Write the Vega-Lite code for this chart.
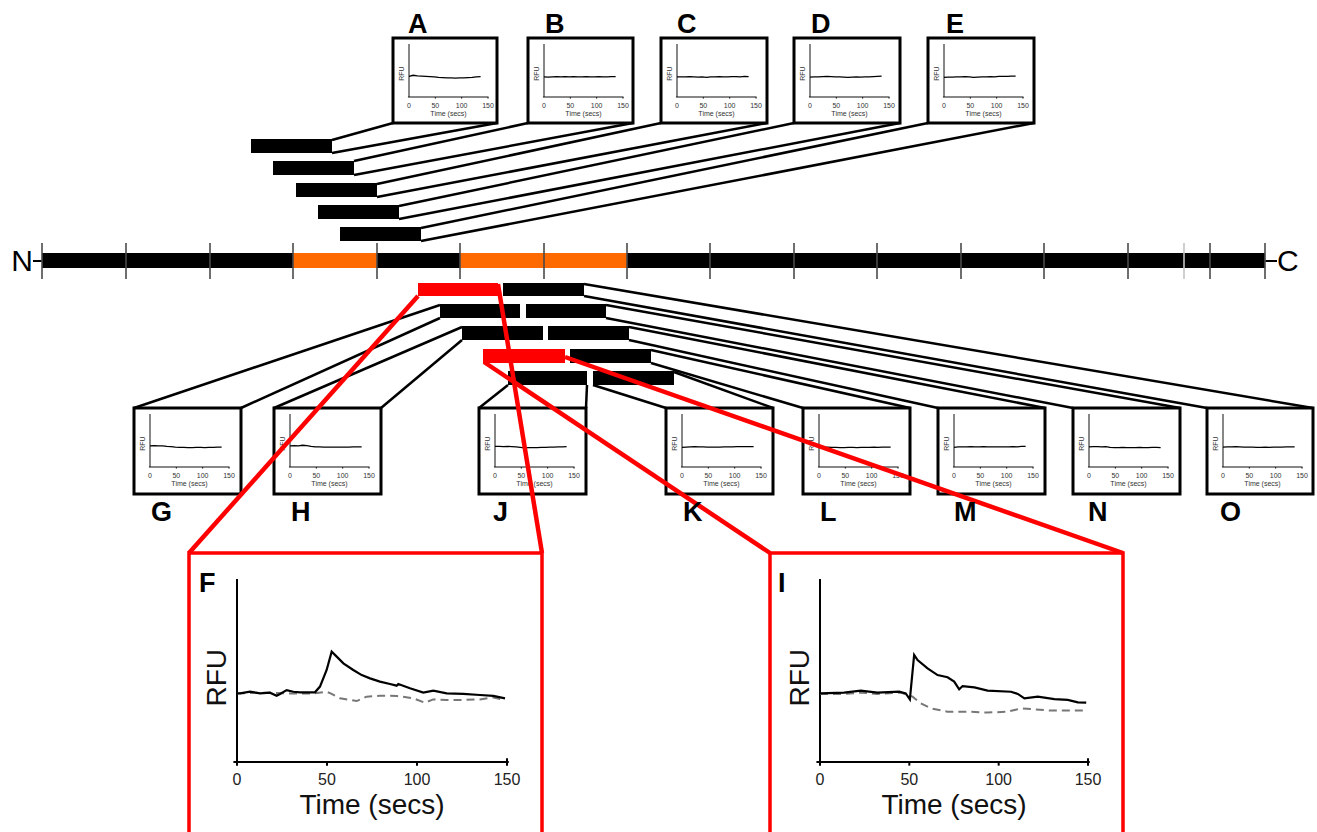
{
"$schema":"https://vega.github.io/schema/vega-lite/v6.json",
"width":1317,"height":832,"autosize":{"type":"none"},"padding":0,"background":"white",
"config":{"view":{"stroke":null},"font":"Liberation Sans"},
"datasets":{
"links":[
{"kind":"black","x":332,"y":140,"x2":393,"y2":123},{"kind":"black","x":332,"y":153,"x2":497,"y2":123},
{"kind":"black","x":354,"y":161,"x2":528,"y2":123},{"kind":"black","x":354,"y":175,"x2":633,"y2":123},
{"kind":"black","x":377,"y":184,"x2":661,"y2":123},{"kind":"black","x":377,"y":197,"x2":767,"y2":123},
{"kind":"black","x":399,"y":206,"x2":794,"y2":123},{"kind":"black","x":399,"y":219,"x2":900,"y2":123},
{"kind":"black","x":421,"y":228,"x2":928,"y2":123},{"kind":"black","x":421,"y":241,"x2":1034,"y2":123},
{"kind":"black","x":440,"y":305,"x2":134,"y2":408},{"kind":"black","x":440,"y":318,"x2":241,"y2":408},
{"kind":"black","x":462,"y":327,"x2":274,"y2":408},{"kind":"black","x":462,"y":340,"x2":381,"y2":408},
{"kind":"black","x":508,"y":385,"x2":479,"y2":408},{"kind":"black","x":587,"y":385,"x2":586,"y2":408},
{"kind":"black","x":593,"y":385,"x2":666,"y2":408},{"kind":"black","x":674,"y":372,"x2":773,"y2":408},
{"kind":"black","x":651,"y":350,"x2":910,"y2":408},{"kind":"black","x":651,"y":363,"x2":803,"y2":408},
{"kind":"black","x":629,"y":327,"x2":1045,"y2":408},{"kind":"black","x":629,"y":340,"x2":938,"y2":408},
{"kind":"black","x":606,"y":305,"x2":1180,"y2":408},{"kind":"black","x":606,"y":318,"x2":1073,"y2":408},
{"kind":"black","x":584,"y":284,"x2":1313,"y2":408},{"kind":"black","x":584,"y":296,"x2":1207,"y2":408},
{"kind":"thin","x":33,"y":261,"x2":42,"y2":261},{"kind":"thin","x":1265,"y":261,"x2":1277,"y2":261},
{"kind":"red","x":418,"y":296,"x2":189,"y2":553},{"kind":"red","x":498,"y":284,"x2":542,"y2":553},
{"kind":"red","x":484,"y":362,"x2":770,"y2":553},{"kind":"red","x":565,"y":357,"x2":1123,"y2":553}
],
"bars":[
{"kind":"black","x":42,"x2":1265,"y":253,"y2":268},
{"kind":"orange","x":293,"x2":377,"y":253,"y2":268},{"kind":"orange","x":460,"x2":627,"y":253,"y2":268},
{"kind":"black","x":251,"x2":332,"y":139,"y2":153},{"kind":"black","x":273,"x2":354,"y":161,"y2":175},
{"kind":"black","x":296,"x2":377,"y":183,"y2":197},{"kind":"black","x":318,"x2":399,"y":205,"y2":219},
{"kind":"black","x":340,"x2":421,"y":227,"y2":241},
{"kind":"black","x":503,"x2":584,"y":283,"y2":296},{"kind":"black","x":440,"x2":520,"y":304,"y2":318},
{"kind":"black","x":526,"x2":606,"y":304,"y2":318},{"kind":"black","x":462,"x2":543,"y":326,"y2":340},
{"kind":"black","x":548,"x2":629,"y":326,"y2":340},{"kind":"black","x":570,"x2":651,"y":349,"y2":363},
{"kind":"black","x":508,"x2":587,"y":371,"y2":385},{"kind":"black","x":593,"x2":674,"y":371,"y2":385},
{"kind":"red","x":418,"x2":498,"y":283,"y2":296},{"kind":"red","x":483,"x2":565,"y":349,"y2":363}
],
"ticks":[
{"kind":"dark","x":42,"y":243,"y2":279},{"kind":"dark","x":126,"y":243,"y2":279},{"kind":"dark","x":210,"y":243,"y2":279},
{"kind":"dark","x":293,"y":243,"y2":279},{"kind":"dark","x":377,"y":243,"y2":279},{"kind":"dark","x":460,"y":243,"y2":279},
{"kind":"dark","x":544,"y":243,"y2":279},{"kind":"dark","x":627,"y":243,"y2":279},{"kind":"dark","x":710,"y":243,"y2":279},
{"kind":"dark","x":794,"y":243,"y2":279},{"kind":"dark","x":877,"y":243,"y2":279},{"kind":"dark","x":961,"y":243,"y2":279},
{"kind":"dark","x":1044,"y":243,"y2":279},{"kind":"dark","x":1128,"y":243,"y2":279},{"kind":"light","x":1184,"y":243,"y2":279},
{"kind":"dark","x":1210,"y":243,"y2":279},{"kind":"dark","x":1265,"y":243,"y2":279}
],
"boxes":[
{"kind":"black","x":393,"x2":497,"y":38,"y2":123},{"kind":"black","x":528,"x2":633,"y":38,"y2":123},
{"kind":"black","x":661,"x2":767,"y":38,"y2":123},{"kind":"black","x":794,"x2":900,"y":38,"y2":123},
{"kind":"black","x":928,"x2":1034,"y":38,"y2":123},
{"kind":"black","x":134,"x2":241,"y":408,"y2":494},{"kind":"black","x":274,"x2":381,"y":408,"y2":494},
{"kind":"black","x":479,"x2":586,"y":408,"y2":494},{"kind":"black","x":666,"x2":773,"y":408,"y2":494},
{"kind":"black","x":803,"x2":910,"y":408,"y2":494},{"kind":"black","x":938,"x2":1045,"y":408,"y2":494},
{"kind":"black","x":1073,"x2":1180,"y":408,"y2":494},{"kind":"black","x":1207,"x2":1313,"y":408,"y2":494},
{"kind":"red","x":189,"x2":542,"y":553,"y2":845},{"kind":"red","x":770,"x2":1123,"y":553,"y2":845}
],
"letters":[
{"x":408,"y":33,"label":"A"},{"x":545,"y":33,"label":"B"},{"x":677,"y":33,"label":"C"},{"x":811,"y":33,"label":"D"},{"x":946,"y":33,"label":"E"},
{"x":151,"y":521,"label":"G"},{"x":291,"y":521,"label":"H"},{"x":493,"y":521,"label":"J"},{"x":683,"y":521,"label":"K"},
{"x":820,"y":521,"label":"L"},{"x":954,"y":521,"label":"M"},{"x":1088,"y":521,"label":"N"},{"x":1220,"y":521,"label":"O"},
{"x":199,"y":592,"label":"F"},{"x":778,"y":592,"label":"I"}
],
"ends":[{"x":33,"y":271,"label":"N"},{"x":1277,"y":271,"label":"C"}],
"saxis":[{"t":0,"r":0,"t2":0,"r2":100},{"t":-2,"r":0,"t2":151,"r2":0},{"t":50,"r":0,"t2":50,"r2":-3},{"t":100,"r":0,"t2":100,"r2":-3},{"t":150,"r":0,"t2":150,"r2":-3}],
"slab":[{"t":0,"r":-17,"label":"0"},{"t":50,"r":-17,"label":"50"},{"t":100,"r":-17,"label":"100"},{"t":150,"r":-17,"label":"150"},{"t":75,"r":-32,"label":"Time (secs)"}],
"srfu":[{"t":-13,"r":44,"label":"RFU"}],
"baxis":[{"t":0,"r":0,"t2":0,"r2":100},{"t":-2,"r":0,"t2":151,"r2":0},{"t":0,"r":-2,"t2":0,"r2":0},{"t":50,"r":-2,"t2":50,"r2":0},{"t":100,"r":-2,"t2":100,"r2":0},{"t":150,"r":-2,"t2":150,"r2":2}],
"bticks":[{"t":0,"r":-10,"label":"0"},{"t":50,"r":-10,"label":"50"},{"t":100,"r":-10,"label":"100"},{"t":150,"r":-10,"label":"150"}],
"btitle":[{"t":75,"r":-24,"label":"Time (secs)"}],
"brfu":[{"t":-10.5,"r":46,"label":"RFU"}],
"big":[
{"panel":"F","series":"peptide","t":0,"r":37.5},{"panel":"F","series":"peptide","t":1.7,"r":37.5},{"panel":"F","series":"peptide","t":7.2,"r":38.4},{"panel":"F","series":"peptide","t":12.8,"r":37.5},{"panel":"F","series":"peptide","t":18.3,"r":37.9},{"panel":"F","series":"peptide","t":22,"r":36.2},{"panel":"F","series":"peptide","t":23.9,"r":37.2},{"panel":"F","series":"peptide","t":27.6,"r":39.3},{"panel":"F","series":"peptide","t":31.3,"r":38.4},{"panel":"F","series":"peptide","t":35,"r":38.1},{"panel":"F","series":"peptide","t":43.3,"r":38.1},{"panel":"F","series":"peptide","t":46.1,"r":41.2},{"panel":"F","series":"peptide","t":49.8,"r":50.3},{"panel":"F","series":"peptide","t":52.6,"r":60.3},{"panel":"F","series":"peptide","t":55.4,"r":57.6},{"panel":"F","series":"peptide","t":59.1,"r":53.9},{"panel":"F","series":"peptide","t":64.6,"r":50.3},{"panel":"F","series":"peptide","t":69.3,"r":47.5},{"panel":"F","series":"peptide","t":73.9,"r":45.7},{"panel":"F","series":"peptide","t":79.4,"r":43.9},{"panel":"F","series":"peptide","t":85,"r":42.6},{"panel":"F","series":"peptide","t":88.7,"r":41.7},{"panel":"F","series":"peptide","t":89.6,"r":42.6},{"panel":"F","series":"peptide","t":96.1,"r":40.3},{"panel":"F","series":"peptide","t":103.5,"r":37.9},{"panel":"F","series":"peptide","t":109.1,"r":39},{"panel":"F","series":"peptide","t":116.5,"r":37.5},{"panel":"F","series":"peptide","t":125.7,"r":37.2},{"panel":"F","series":"peptide","t":135,"r":36.6},{"panel":"F","series":"peptide","t":142.4,"r":36.1},{"panel":"F","series":"peptide","t":148.9,"r":34.8},
{"panel":"F","series":"control","t":0,"r":37.5},{"panel":"F","series":"control","t":14.6,"r":37.9},{"panel":"F","series":"control","t":29.4,"r":37.5},{"panel":"F","series":"control","t":42.4,"r":37.5},{"panel":"F","series":"control","t":49.8,"r":38.4},{"panel":"F","series":"control","t":52,"r":37.5},{"panel":"F","series":"control","t":57.2,"r":34.8},{"panel":"F","series":"control","t":66.5,"r":33.3},{"panel":"F","series":"control","t":72,"r":35.7},{"panel":"F","series":"control","t":79.4,"r":36.2},{"panel":"F","series":"control","t":88.7,"r":36.1},{"panel":"F","series":"control","t":98,"r":34.8},{"panel":"F","series":"control","t":104.4,"r":32.4},{"panel":"F","series":"control","t":109,"r":34.2},{"panel":"F","series":"control","t":116.5,"r":33.9},{"panel":"F","series":"control","t":125.7,"r":33.9},{"panel":"F","series":"control","t":135,"r":34.2},{"panel":"F","series":"control","t":142.4,"r":35.3},{"panel":"F","series":"control","t":148.9,"r":33.9},
{"panel":"I","series":"peptide","t":0,"r":37.5},{"panel":"I","series":"peptide","t":13.5,"r":37.9},{"panel":"I","series":"peptide","t":22.8,"r":39},{"panel":"I","series":"peptide","t":32.1,"r":37.9},{"panel":"I","series":"peptide","t":44.3,"r":38.4},{"panel":"I","series":"peptide","t":48,"r":37.5},{"panel":"I","series":"peptide","t":50.3,"r":34.2},{"panel":"I","series":"peptide","t":52.7,"r":58.5},{"panel":"I","series":"peptide","t":54.6,"r":55.7},{"panel":"I","series":"peptide","t":60.2,"r":51.2},{"panel":"I","series":"peptide","t":65.8,"r":47.5},{"panel":"I","series":"peptide","t":71.4,"r":46.3},{"panel":"I","series":"peptide","t":75.1,"r":43.9},{"panel":"I","series":"peptide","t":77.9,"r":39.7},{"panel":"I","series":"peptide","t":79.8,"r":41.5},{"panel":"I","series":"peptide","t":86.4,"r":40.8},{"panel":"I","series":"peptide","t":93.8,"r":39},{"panel":"I","series":"peptide","t":106.9,"r":38.4},{"panel":"I","series":"peptide","t":110.7,"r":37.2},{"panel":"I","series":"peptide","t":114.4,"r":34.8},{"panel":"I","series":"peptide","t":121.9,"r":35.7},{"panel":"I","series":"peptide","t":131.2,"r":34.4},{"panel":"I","series":"peptide","t":138.7,"r":33.9},{"panel":"I","series":"peptide","t":144.3,"r":32.6},{"panel":"I","series":"peptide","t":149,"r":32.4},
{"panel":"I","series":"control","t":0,"r":37.2},{"panel":"I","series":"control","t":13.5,"r":37.2},{"panel":"I","series":"control","t":22.8,"r":37.9},{"panel":"I","series":"control","t":32.1,"r":37.2},{"panel":"I","series":"control","t":45.2,"r":37.9},{"panel":"I","series":"control","t":51.8,"r":35.7},{"panel":"I","series":"control","t":56.4,"r":32.1},{"panel":"I","series":"control","t":62.1,"r":29.3},{"panel":"I","series":"control","t":71.4,"r":27.5},{"panel":"I","series":"control","t":82.6,"r":27.5},{"panel":"I","series":"control","t":93.8,"r":27},{"panel":"I","series":"control","t":105,"r":27.5},{"panel":"I","series":"control","t":112.5,"r":29.3},{"panel":"I","series":"control","t":120,"r":28.8},{"panel":"I","series":"control","t":129.3,"r":28.1},{"panel":"I","series":"control","t":138.7,"r":28.1},{"panel":"I","series":"control","t":148,"r":28.1}
],
"small":[
{"panel":"A","t":0,"r":39},{"panel":"A","t":8,"r":41},{"panel":"A","t":16,"r":40},{"panel":"A","t":24,"r":39.5},{"panel":"A","t":32,"r":39},{"panel":"A","t":40,"r":38.5},{"panel":"A","t":48,"r":38},{"panel":"A","t":56,"r":37},{"panel":"A","t":64,"r":36.5},{"panel":"A","t":72,"r":36},{"panel":"A","t":80,"r":36},{"panel":"A","t":88,"r":35.5},{"panel":"A","t":96,"r":36},{"panel":"A","t":104,"r":36},{"panel":"A","t":112,"r":36.5},{"panel":"A","t":120,"r":37},{"panel":"A","t":128,"r":38},{"panel":"A","t":136,"r":38.5},
{"panel":"B","t":0,"r":38},{"panel":"B","t":8,"r":37.5},{"panel":"B","t":16,"r":38},{"panel":"B","t":24,"r":38.5},{"panel":"B","t":32,"r":38},{"panel":"B","t":40,"r":38.5},{"panel":"B","t":48,"r":38},{"panel":"B","t":56,"r":38.5},{"panel":"B","t":64,"r":38},{"panel":"B","t":72,"r":38},{"panel":"B","t":80,"r":38.5},{"panel":"B","t":88,"r":38},{"panel":"B","t":96,"r":38},{"panel":"B","t":104,"r":38.5},{"panel":"B","t":112,"r":38},{"panel":"B","t":120,"r":38},{"panel":"B","t":128,"r":38.5},{"panel":"B","t":136,"r":38.5},
{"panel":"C","t":0,"r":38},{"panel":"C","t":8,"r":38},{"panel":"C","t":16,"r":38},{"panel":"C","t":24,"r":38.5},{"panel":"C","t":32,"r":38},{"panel":"C","t":40,"r":37.5},{"panel":"C","t":48,"r":38},{"panel":"C","t":56,"r":37},{"panel":"C","t":64,"r":38},{"panel":"C","t":72,"r":38},{"panel":"C","t":80,"r":38.5},{"panel":"C","t":88,"r":38},{"panel":"C","t":96,"r":38},{"panel":"C","t":104,"r":38.5},{"panel":"C","t":112,"r":38.5},{"panel":"C","t":120,"r":38},{"panel":"C","t":128,"r":39},{"panel":"C","t":136,"r":38.5},
{"panel":"D","t":0,"r":37.5},{"panel":"D","t":8,"r":38},{"panel":"D","t":16,"r":38},{"panel":"D","t":24,"r":38.5},{"panel":"D","t":32,"r":39},{"panel":"D","t":40,"r":38.5},{"panel":"D","t":48,"r":38},{"panel":"D","t":56,"r":38},{"panel":"D","t":64,"r":37.5},{"panel":"D","t":72,"r":37},{"panel":"D","t":80,"r":37.5},{"panel":"D","t":88,"r":38},{"panel":"D","t":96,"r":37.5},{"panel":"D","t":104,"r":38},{"panel":"D","t":112,"r":38},{"panel":"D","t":120,"r":38.5},{"panel":"D","t":128,"r":39},{"panel":"D","t":136,"r":39.5},
{"panel":"E","t":0,"r":37},{"panel":"E","t":8,"r":37.5},{"panel":"E","t":16,"r":37.5},{"panel":"E","t":24,"r":38},{"panel":"E","t":32,"r":38},{"panel":"E","t":40,"r":38.5},{"panel":"E","t":48,"r":38},{"panel":"E","t":56,"r":37},{"panel":"E","t":64,"r":37.5},{"panel":"E","t":72,"r":38},{"panel":"E","t":80,"r":38},{"panel":"E","t":88,"r":38.5},{"panel":"E","t":96,"r":38},{"panel":"E","t":104,"r":39},{"panel":"E","t":112,"r":39},{"panel":"E","t":120,"r":39},{"panel":"E","t":128,"r":39.5},{"panel":"E","t":136,"r":39.5},
{"panel":"G","t":0,"r":40},{"panel":"G","t":8,"r":40.5},{"panel":"G","t":16,"r":40},{"panel":"G","t":24,"r":40},{"panel":"G","t":32,"r":39},{"panel":"G","t":40,"r":38.5},{"panel":"G","t":48,"r":37.5},{"panel":"G","t":56,"r":37},{"panel":"G","t":64,"r":37},{"panel":"G","t":72,"r":36.5},{"panel":"G","t":80,"r":36.5},{"panel":"G","t":88,"r":37},{"panel":"G","t":96,"r":37},{"panel":"G","t":104,"r":36.5},{"panel":"G","t":112,"r":37},{"panel":"G","t":120,"r":37},{"panel":"G","t":128,"r":37.5},{"panel":"G","t":136,"r":37.5},
{"panel":"H","t":0,"r":40},{"panel":"H","t":8,"r":40.5},{"panel":"H","t":16,"r":40},{"panel":"H","t":24,"r":41},{"panel":"H","t":32,"r":40.5},{"panel":"H","t":40,"r":39},{"panel":"H","t":48,"r":38},{"panel":"H","t":56,"r":38},{"panel":"H","t":64,"r":37.5},{"panel":"H","t":72,"r":37.5},{"panel":"H","t":80,"r":37.5},{"panel":"H","t":88,"r":37.5},{"panel":"H","t":96,"r":37.5},{"panel":"H","t":104,"r":37.5},{"panel":"H","t":112,"r":37.5},{"panel":"H","t":120,"r":38},{"panel":"H","t":128,"r":38},{"panel":"H","t":136,"r":38},
{"panel":"J","t":0,"r":39},{"panel":"J","t":8,"r":39},{"panel":"J","t":16,"r":38.5},{"panel":"J","t":24,"r":39},{"panel":"J","t":32,"r":38.5},{"panel":"J","t":40,"r":38},{"panel":"J","t":48,"r":37},{"panel":"J","t":56,"r":36},{"panel":"J","t":64,"r":36.5},{"panel":"J","t":72,"r":36.5},{"panel":"J","t":80,"r":36.5},{"panel":"J","t":88,"r":37},{"panel":"J","t":96,"r":37},{"panel":"J","t":104,"r":37.5},{"panel":"J","t":112,"r":37.5},{"panel":"J","t":120,"r":38},{"panel":"J","t":128,"r":38},{"panel":"J","t":136,"r":38.5},
{"panel":"K","t":0,"r":37},{"panel":"K","t":8,"r":37.5},{"panel":"K","t":16,"r":38},{"panel":"K","t":24,"r":38.5},{"panel":"K","t":32,"r":38},{"panel":"K","t":40,"r":38},{"panel":"K","t":48,"r":37.5},{"panel":"K","t":56,"r":37.5},{"panel":"K","t":64,"r":37.5},{"panel":"K","t":72,"r":37.5},{"panel":"K","t":80,"r":38},{"panel":"K","t":88,"r":38},{"panel":"K","t":96,"r":38},{"panel":"K","t":104,"r":38.5},{"panel":"K","t":112,"r":38.5},{"panel":"K","t":120,"r":38.5},{"panel":"K","t":128,"r":38.5},{"panel":"K","t":136,"r":38.5},
{"panel":"L","t":0,"r":36.5},{"panel":"L","t":8,"r":37},{"panel":"L","t":16,"r":37.5},{"panel":"L","t":24,"r":37},{"panel":"L","t":32,"r":37},{"panel":"L","t":40,"r":36.5},{"panel":"L","t":48,"r":36.5},{"panel":"L","t":56,"r":37},{"panel":"L","t":64,"r":37},{"panel":"L","t":72,"r":36.5},{"panel":"L","t":80,"r":37},{"panel":"L","t":88,"r":37},{"panel":"L","t":96,"r":37},{"panel":"L","t":104,"r":37.5},{"panel":"L","t":112,"r":37},{"panel":"L","t":120,"r":37.5},{"panel":"L","t":128,"r":37.5},{"panel":"L","t":136,"r":37.5},
{"panel":"M","t":0,"r":37},{"panel":"M","t":8,"r":38},{"panel":"M","t":16,"r":38},{"panel":"M","t":24,"r":38},{"panel":"M","t":32,"r":38.5},{"panel":"M","t":40,"r":38},{"panel":"M","t":48,"r":38},{"panel":"M","t":56,"r":38.5},{"panel":"M","t":64,"r":38},{"panel":"M","t":72,"r":38},{"panel":"M","t":80,"r":38},{"panel":"M","t":88,"r":38},{"panel":"M","t":96,"r":38},{"panel":"M","t":104,"r":38},{"panel":"M","t":112,"r":38.5},{"panel":"M","t":120,"r":38},{"panel":"M","t":128,"r":39},{"panel":"M","t":136,"r":39},
{"panel":"N","t":0,"r":38},{"panel":"N","t":8,"r":38.5},{"panel":"N","t":16,"r":38.5},{"panel":"N","t":24,"r":38},{"panel":"N","t":32,"r":38.5},{"panel":"N","t":40,"r":37},{"panel":"N","t":48,"r":36.5},{"panel":"N","t":56,"r":36.5},{"panel":"N","t":64,"r":37},{"panel":"N","t":72,"r":36.5},{"panel":"N","t":80,"r":36.5},{"panel":"N","t":88,"r":36.5},{"panel":"N","t":96,"r":37},{"panel":"N","t":104,"r":36.5},{"panel":"N","t":112,"r":36.5},{"panel":"N","t":120,"r":37},{"panel":"N","t":128,"r":37},{"panel":"N","t":136,"r":36.5},
{"panel":"O","t":0,"r":37.5},{"panel":"O","t":8,"r":38},{"panel":"O","t":16,"r":38},{"panel":"O","t":24,"r":38.5},{"panel":"O","t":32,"r":38},{"panel":"O","t":40,"r":37.5},{"panel":"O","t":48,"r":37.5},{"panel":"O","t":56,"r":37.5},{"panel":"O","t":64,"r":37},{"panel":"O","t":72,"r":37},{"panel":"O","t":80,"r":37.5},{"panel":"O","t":88,"r":37},{"panel":"O","t":96,"r":37.5},{"panel":"O","t":104,"r":37.5},{"panel":"O","t":112,"r":37.5},{"panel":"O","t":120,"r":38},{"panel":"O","t":128,"r":38},{"panel":"O","t":136,"r":38}
]
},
"resolve":{"scale":{"x":"independent","y":"independent"}},
"layer":[
{"encoding":{"x":{"field":"x","type":"quantitative","scale":{"domain":[0,1317],"range":[0,1317],"nice":false,"zero":false},"axis":null},"y":{"field":"y","type":"quantitative","scale":{"domain":[0,832],"range":[0,832],"nice":false,"zero":false},"axis":null}},
"layer":[
{"data":{"name":"links"},"transform":[{"filter":"datum.kind=='black'"}],"mark":{"type":"rule","color":"black","strokeWidth":2.5},"encoding":{"x2":{"field":"x2"},"y2":{"field":"y2"}}},
{"data":{"name":"links"},"transform":[{"filter":"datum.kind=='thin'"}],"mark":{"type":"rule","color":"black","strokeWidth":2},"encoding":{"x2":{"field":"x2"},"y2":{"field":"y2"}}},
{"data":{"name":"bars"},"transform":[{"filter":"datum.kind=='black'"}],"mark":{"type":"rect","color":"black"},"encoding":{"x2":{"field":"x2"},"y2":{"field":"y2"}}},
{"data":{"name":"bars"},"transform":[{"filter":"datum.kind=='orange'"}],"mark":{"type":"rect","color":"#ff6a00"},"encoding":{"x2":{"field":"x2"},"y2":{"field":"y2"}}},
{"data":{"name":"ticks"},"transform":[{"filter":"datum.kind=='dark'"}],"mark":{"type":"rule","color":"#4a4a4a","strokeWidth":1.6},"encoding":{"y2":{"field":"y2"}}},
{"data":{"name":"ticks"},"transform":[{"filter":"datum.kind=='light'"}],"mark":{"type":"rule","color":"#c4c4c4","strokeWidth":1.6},"encoding":{"y2":{"field":"y2"}}},
{"data":{"name":"boxes"},"transform":[{"filter":"datum.kind=='black'"}],"mark":{"type":"rect","fill":"white","stroke":"black","strokeWidth":3},"encoding":{"x2":{"field":"x2"},"y2":{"field":"y2"}}},
{"data":{"name":"boxes"},"transform":[{"filter":"datum.kind=='red'"}],"mark":{"type":"rect","fill":"white","stroke":"#ff0000","strokeWidth":3.5},"encoding":{"x2":{"field":"x2"},"y2":{"field":"y2"}}}
]},
{"encoding":{"x":{"field":"t","type":"quantitative","scale":{"domain":[0,150],"range":[409,488],"nice":false,"zero":false},"axis":null},"y":{"field":"r","type":"quantitative","scale":{"domain":[0,100],"range":[97,44],"nice":false,"zero":false},"axis":null}},"layer":[{"data":{"name":"saxis"},"mark":{"type":"rule","color":"#111","strokeWidth":1},"encoding":{"x2":{"field":"t2"},"y2":{"field":"r2"}}},{"data":{"name":"slab"},"mark":{"type":"text","fontSize":7,"color":"#333"},"encoding":{"text":{"field":"label","type":"nominal"}}},{"data":{"name":"srfu"},"mark":{"type":"text","fontSize":7,"color":"#333","angle":270},"encoding":{"text":{"field":"label","type":"nominal"}}},{"data":{"name":"small"},"transform":[{"filter":"datum.panel=='A'"}],"mark":{"type":"line","color":"black","strokeWidth":1.3},"encoding":{}}]},
{"encoding":{"x":{"field":"t","type":"quantitative","scale":{"domain":[0,150],"range":[544,623],"nice":false,"zero":false},"axis":null},"y":{"field":"r","type":"quantitative","scale":{"domain":[0,100],"range":[97,44],"nice":false,"zero":false},"axis":null}},"layer":[{"data":{"name":"saxis"},"mark":{"type":"rule","color":"#111","strokeWidth":1},"encoding":{"x2":{"field":"t2"},"y2":{"field":"r2"}}},{"data":{"name":"slab"},"mark":{"type":"text","fontSize":7,"color":"#333"},"encoding":{"text":{"field":"label","type":"nominal"}}},{"data":{"name":"srfu"},"mark":{"type":"text","fontSize":7,"color":"#333","angle":270},"encoding":{"text":{"field":"label","type":"nominal"}}},{"data":{"name":"small"},"transform":[{"filter":"datum.panel=='B'"}],"mark":{"type":"line","color":"black","strokeWidth":1.3},"encoding":{}}]},
{"encoding":{"x":{"field":"t","type":"quantitative","scale":{"domain":[0,150],"range":[677,756],"nice":false,"zero":false},"axis":null},"y":{"field":"r","type":"quantitative","scale":{"domain":[0,100],"range":[97,44],"nice":false,"zero":false},"axis":null}},"layer":[{"data":{"name":"saxis"},"mark":{"type":"rule","color":"#111","strokeWidth":1},"encoding":{"x2":{"field":"t2"},"y2":{"field":"r2"}}},{"data":{"name":"slab"},"mark":{"type":"text","fontSize":7,"color":"#333"},"encoding":{"text":{"field":"label","type":"nominal"}}},{"data":{"name":"srfu"},"mark":{"type":"text","fontSize":7,"color":"#333","angle":270},"encoding":{"text":{"field":"label","type":"nominal"}}},{"data":{"name":"small"},"transform":[{"filter":"datum.panel=='C'"}],"mark":{"type":"line","color":"black","strokeWidth":1.3},"encoding":{}}]},
{"encoding":{"x":{"field":"t","type":"quantitative","scale":{"domain":[0,150],"range":[810,889],"nice":false,"zero":false},"axis":null},"y":{"field":"r","type":"quantitative","scale":{"domain":[0,100],"range":[97,44],"nice":false,"zero":false},"axis":null}},"layer":[{"data":{"name":"saxis"},"mark":{"type":"rule","color":"#111","strokeWidth":1},"encoding":{"x2":{"field":"t2"},"y2":{"field":"r2"}}},{"data":{"name":"slab"},"mark":{"type":"text","fontSize":7,"color":"#333"},"encoding":{"text":{"field":"label","type":"nominal"}}},{"data":{"name":"srfu"},"mark":{"type":"text","fontSize":7,"color":"#333","angle":270},"encoding":{"text":{"field":"label","type":"nominal"}}},{"data":{"name":"small"},"transform":[{"filter":"datum.panel=='D'"}],"mark":{"type":"line","color":"black","strokeWidth":1.3},"encoding":{}}]},
{"encoding":{"x":{"field":"t","type":"quantitative","scale":{"domain":[0,150],"range":[944,1023],"nice":false,"zero":false},"axis":null},"y":{"field":"r","type":"quantitative","scale":{"domain":[0,100],"range":[97,44],"nice":false,"zero":false},"axis":null}},"layer":[{"data":{"name":"saxis"},"mark":{"type":"rule","color":"#111","strokeWidth":1},"encoding":{"x2":{"field":"t2"},"y2":{"field":"r2"}}},{"data":{"name":"slab"},"mark":{"type":"text","fontSize":7,"color":"#333"},"encoding":{"text":{"field":"label","type":"nominal"}}},{"data":{"name":"srfu"},"mark":{"type":"text","fontSize":7,"color":"#333","angle":270},"encoding":{"text":{"field":"label","type":"nominal"}}},{"data":{"name":"small"},"transform":[{"filter":"datum.panel=='E'"}],"mark":{"type":"line","color":"black","strokeWidth":1.3},"encoding":{}}]},
{"encoding":{"x":{"field":"t","type":"quantitative","scale":{"domain":[0,150],"range":[150,229],"nice":false,"zero":false},"axis":null},"y":{"field":"r","type":"quantitative","scale":{"domain":[0,100],"range":[467,414],"nice":false,"zero":false},"axis":null}},"layer":[{"data":{"name":"saxis"},"mark":{"type":"rule","color":"#111","strokeWidth":1},"encoding":{"x2":{"field":"t2"},"y2":{"field":"r2"}}},{"data":{"name":"slab"},"mark":{"type":"text","fontSize":7,"color":"#333"},"encoding":{"text":{"field":"label","type":"nominal"}}},{"data":{"name":"srfu"},"mark":{"type":"text","fontSize":7,"color":"#333","angle":270},"encoding":{"text":{"field":"label","type":"nominal"}}},{"data":{"name":"small"},"transform":[{"filter":"datum.panel=='G'"}],"mark":{"type":"line","color":"black","strokeWidth":1.3},"encoding":{}}]},
{"encoding":{"x":{"field":"t","type":"quantitative","scale":{"domain":[0,150],"range":[290,369],"nice":false,"zero":false},"axis":null},"y":{"field":"r","type":"quantitative","scale":{"domain":[0,100],"range":[467,414],"nice":false,"zero":false},"axis":null}},"layer":[{"data":{"name":"saxis"},"mark":{"type":"rule","color":"#111","strokeWidth":1},"encoding":{"x2":{"field":"t2"},"y2":{"field":"r2"}}},{"data":{"name":"slab"},"mark":{"type":"text","fontSize":7,"color":"#333"},"encoding":{"text":{"field":"label","type":"nominal"}}},{"data":{"name":"srfu"},"mark":{"type":"text","fontSize":7,"color":"#333","angle":270},"encoding":{"text":{"field":"label","type":"nominal"}}},{"data":{"name":"small"},"transform":[{"filter":"datum.panel=='H'"}],"mark":{"type":"line","color":"black","strokeWidth":1.3},"encoding":{}}]},
{"encoding":{"x":{"field":"t","type":"quantitative","scale":{"domain":[0,150],"range":[495,574],"nice":false,"zero":false},"axis":null},"y":{"field":"r","type":"quantitative","scale":{"domain":[0,100],"range":[467,414],"nice":false,"zero":false},"axis":null}},"layer":[{"data":{"name":"saxis"},"mark":{"type":"rule","color":"#111","strokeWidth":1},"encoding":{"x2":{"field":"t2"},"y2":{"field":"r2"}}},{"data":{"name":"slab"},"mark":{"type":"text","fontSize":7,"color":"#333"},"encoding":{"text":{"field":"label","type":"nominal"}}},{"data":{"name":"srfu"},"mark":{"type":"text","fontSize":7,"color":"#333","angle":270},"encoding":{"text":{"field":"label","type":"nominal"}}},{"data":{"name":"small"},"transform":[{"filter":"datum.panel=='J'"}],"mark":{"type":"line","color":"black","strokeWidth":1.3},"encoding":{}}]},
{"encoding":{"x":{"field":"t","type":"quantitative","scale":{"domain":[0,150],"range":[682,761],"nice":false,"zero":false},"axis":null},"y":{"field":"r","type":"quantitative","scale":{"domain":[0,100],"range":[467,414],"nice":false,"zero":false},"axis":null}},"layer":[{"data":{"name":"saxis"},"mark":{"type":"rule","color":"#111","strokeWidth":1},"encoding":{"x2":{"field":"t2"},"y2":{"field":"r2"}}},{"data":{"name":"slab"},"mark":{"type":"text","fontSize":7,"color":"#333"},"encoding":{"text":{"field":"label","type":"nominal"}}},{"data":{"name":"srfu"},"mark":{"type":"text","fontSize":7,"color":"#333","angle":270},"encoding":{"text":{"field":"label","type":"nominal"}}},{"data":{"name":"small"},"transform":[{"filter":"datum.panel=='K'"}],"mark":{"type":"line","color":"black","strokeWidth":1.3},"encoding":{}}]},
{"encoding":{"x":{"field":"t","type":"quantitative","scale":{"domain":[0,150],"range":[819,898],"nice":false,"zero":false},"axis":null},"y":{"field":"r","type":"quantitative","scale":{"domain":[0,100],"range":[467,414],"nice":false,"zero":false},"axis":null}},"layer":[{"data":{"name":"saxis"},"mark":{"type":"rule","color":"#111","strokeWidth":1},"encoding":{"x2":{"field":"t2"},"y2":{"field":"r2"}}},{"data":{"name":"slab"},"mark":{"type":"text","fontSize":7,"color":"#333"},"encoding":{"text":{"field":"label","type":"nominal"}}},{"data":{"name":"srfu"},"mark":{"type":"text","fontSize":7,"color":"#333","angle":270},"encoding":{"text":{"field":"label","type":"nominal"}}},{"data":{"name":"small"},"transform":[{"filter":"datum.panel=='L'"}],"mark":{"type":"line","color":"black","strokeWidth":1.3},"encoding":{}}]},
{"encoding":{"x":{"field":"t","type":"quantitative","scale":{"domain":[0,150],"range":[954,1033],"nice":false,"zero":false},"axis":null},"y":{"field":"r","type":"quantitative","scale":{"domain":[0,100],"range":[467,414],"nice":false,"zero":false},"axis":null}},"layer":[{"data":{"name":"saxis"},"mark":{"type":"rule","color":"#111","strokeWidth":1},"encoding":{"x2":{"field":"t2"},"y2":{"field":"r2"}}},{"data":{"name":"slab"},"mark":{"type":"text","fontSize":7,"color":"#333"},"encoding":{"text":{"field":"label","type":"nominal"}}},{"data":{"name":"srfu"},"mark":{"type":"text","fontSize":7,"color":"#333","angle":270},"encoding":{"text":{"field":"label","type":"nominal"}}},{"data":{"name":"small"},"transform":[{"filter":"datum.panel=='M'"}],"mark":{"type":"line","color":"black","strokeWidth":1.3},"encoding":{}}]},
{"encoding":{"x":{"field":"t","type":"quantitative","scale":{"domain":[0,150],"range":[1089,1168],"nice":false,"zero":false},"axis":null},"y":{"field":"r","type":"quantitative","scale":{"domain":[0,100],"range":[467,414],"nice":false,"zero":false},"axis":null}},"layer":[{"data":{"name":"saxis"},"mark":{"type":"rule","color":"#111","strokeWidth":1},"encoding":{"x2":{"field":"t2"},"y2":{"field":"r2"}}},{"data":{"name":"slab"},"mark":{"type":"text","fontSize":7,"color":"#333"},"encoding":{"text":{"field":"label","type":"nominal"}}},{"data":{"name":"srfu"},"mark":{"type":"text","fontSize":7,"color":"#333","angle":270},"encoding":{"text":{"field":"label","type":"nominal"}}},{"data":{"name":"small"},"transform":[{"filter":"datum.panel=='N'"}],"mark":{"type":"line","color":"black","strokeWidth":1.3},"encoding":{}}]},
{"encoding":{"x":{"field":"t","type":"quantitative","scale":{"domain":[0,150],"range":[1223,1302],"nice":false,"zero":false},"axis":null},"y":{"field":"r","type":"quantitative","scale":{"domain":[0,100],"range":[467,414],"nice":false,"zero":false},"axis":null}},"layer":[{"data":{"name":"saxis"},"mark":{"type":"rule","color":"#111","strokeWidth":1},"encoding":{"x2":{"field":"t2"},"y2":{"field":"r2"}}},{"data":{"name":"slab"},"mark":{"type":"text","fontSize":7,"color":"#333"},"encoding":{"text":{"field":"label","type":"nominal"}}},{"data":{"name":"srfu"},"mark":{"type":"text","fontSize":7,"color":"#333","angle":270},"encoding":{"text":{"field":"label","type":"nominal"}}},{"data":{"name":"small"},"transform":[{"filter":"datum.panel=='O'"}],"mark":{"type":"line","color":"black","strokeWidth":1.3},"encoding":{}}]},
{"encoding":{"x":{"field":"t","type":"quantitative","scale":{"domain":[0,150],"range":[237,507],"nice":false,"zero":false},"axis":null},"y":{"field":"r","type":"quantitative","scale":{"domain":[0,100],"range":[762,579],"nice":false,"zero":false},"axis":null}},"layer":[
{"data":{"name":"baxis"},"mark":{"type":"rule","color":"black","strokeWidth":2},"encoding":{"x2":{"field":"t2"},"y2":{"field":"r2"}}},
{"data":{"name":"bticks"},"mark":{"type":"text","fontSize":16,"color":"#222"},"encoding":{"text":{"field":"label","type":"nominal"}}},
{"data":{"name":"btitle"},"mark":{"type":"text","fontSize":28,"color":"#111"},"encoding":{"text":{"field":"label","type":"nominal"}}},
{"data":{"name":"brfu"},"mark":{"type":"text","fontSize":28,"color":"#111","angle":270},"encoding":{"text":{"field":"label","type":"nominal"}}},
{"data":{"name":"big"},"transform":[{"filter":"datum.panel=='F' && datum.series=='control'"}],"mark":{"type":"line","color":"#777777","strokeWidth":2,"strokeDash":[8,5]},"encoding":{}},
{"data":{"name":"big"},"transform":[{"filter":"datum.panel=='F' && datum.series=='peptide'"}],"mark":{"type":"line","color":"black","strokeWidth":2.2},"encoding":{}}
]},
{"encoding":{"x":{"field":"t","type":"quantitative","scale":{"domain":[0,150],"range":[820,1088],"nice":false,"zero":false},"axis":null},"y":{"field":"r","type":"quantitative","scale":{"domain":[0,100],"range":[762,579],"nice":false,"zero":false},"axis":null}},"layer":[
{"data":{"name":"baxis"},"mark":{"type":"rule","color":"black","strokeWidth":2},"encoding":{"x2":{"field":"t2"},"y2":{"field":"r2"}}},
{"data":{"name":"bticks"},"mark":{"type":"text","fontSize":16,"color":"#222"},"encoding":{"text":{"field":"label","type":"nominal"}}},
{"data":{"name":"btitle"},"mark":{"type":"text","fontSize":28,"color":"#111"},"encoding":{"text":{"field":"label","type":"nominal"}}},
{"data":{"name":"brfu"},"mark":{"type":"text","fontSize":28,"color":"#111","angle":270},"encoding":{"text":{"field":"label","type":"nominal"}}},
{"data":{"name":"big"},"transform":[{"filter":"datum.panel=='I' && datum.series=='control'"}],"mark":{"type":"line","color":"#777777","strokeWidth":2,"strokeDash":[8,5]},"encoding":{}},
{"data":{"name":"big"},"transform":[{"filter":"datum.panel=='I' && datum.series=='peptide'"}],"mark":{"type":"line","color":"black","strokeWidth":2.2},"encoding":{}}
]},
{"encoding":{"x":{"field":"x","type":"quantitative","scale":{"domain":[0,1317],"range":[0,1317],"nice":false,"zero":false},"axis":null},"y":{"field":"y","type":"quantitative","scale":{"domain":[0,832],"range":[0,832],"nice":false,"zero":false},"axis":null}},
"layer":[
{"data":{"name":"links"},"transform":[{"filter":"datum.kind=='red'"}],"mark":{"type":"rule","color":"#ff0000","strokeWidth":4.5},"encoding":{"x2":{"field":"x2"},"y2":{"field":"y2"}}},
{"data":{"name":"bars"},"transform":[{"filter":"datum.kind=='red'"}],"mark":{"type":"rect","color":"#ff0000"},"encoding":{"x2":{"field":"x2"},"y2":{"field":"y2"}}},
{"data":{"name":"letters"},"mark":{"type":"text","fontSize":27,"fontWeight":"bold","align":"left","baseline":"alphabetic","color":"black"},"encoding":{"text":{"field":"label","type":"nominal"}}},
{"data":{"name":"ends"},"transform":[{"filter":"datum.label=='N'"}],"mark":{"type":"text","fontSize":30,"align":"right","baseline":"alphabetic","color":"black"},"encoding":{"text":{"field":"label","type":"nominal"}}},
{"data":{"name":"ends"},"transform":[{"filter":"datum.label=='C'"}],"mark":{"type":"text","fontSize":30,"align":"left","baseline":"alphabetic","color":"black"},"encoding":{"text":{"field":"label","type":"nominal"}}}
]}
]
}
